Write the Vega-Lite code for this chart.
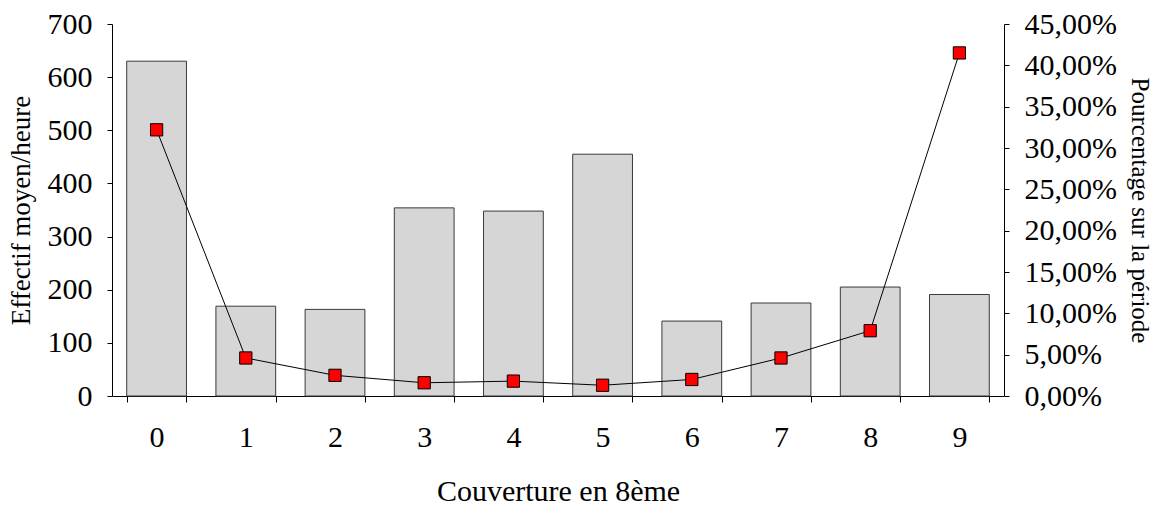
{
  "$schema": "https://vega.github.io/schema/vega-lite/v6.json",
  "width": 892,
  "height": 372,
  "autosize": {"type": "none"},
  "padding": {"left": 112, "top": 24, "right": 154, "bottom": 110},
  "background": "white",
  "data": {
    "values": [
      {"c": "0", "effectif": 630, "pct": 0.322},
      {"c": "1", "effectif": 169, "pct": 0.046},
      {"c": "2", "effectif": 163, "pct": 0.025},
      {"c": "3", "effectif": 354, "pct": 0.016},
      {"c": "4", "effectif": 348, "pct": 0.018},
      {"c": "5", "effectif": 455, "pct": 0.013},
      {"c": "6", "effectif": 141, "pct": 0.020},
      {"c": "7", "effectif": 175, "pct": 0.046},
      {"c": "8", "effectif": 205, "pct": 0.079},
      {"c": "9", "effectif": 191, "pct": 0.415}
    ]
  },
  "encoding": {
    "x": {
      "field": "c",
      "type": "ordinal",
      "sort": null,
      "scale": {"paddingInner": 0.33, "paddingOuter": 0.165},
      "axis": {
        "title": "Couverture en 8ème",
        "titleFontSize": 30,
        "labelAngle": 0,
        "tickBand": "extent",
        "tickSize": 6,
        "labelPadding": 20,
        "titlePadding": 24
      }
    }
  },
  "layer": [
    {
      "mark": {"type": "bar", "fill": "#d6d6d6", "stroke": "#3a3a3a", "strokeWidth": 1},
      "encoding": {
        "y": {
          "field": "effectif",
          "type": "quantitative",
          "scale": {"domain": [0, 700], "nice": false},
          "axis": {
            "title": "Effectif moyen/heure",
            "titleFontSize": 27,
            "orient": "left",
            "values": [0, 100, 200, 300, 400, 500, 600, 700],
            "tickSize": 5,
            "labelPadding": 15,
            "titlePadding": 12
          }
        }
      }
    },
    {
      "layer": [
        {
          "mark": {"type": "line", "color": "black", "strokeWidth": 1},
          "encoding": {}
        },
        {
          "mark": {"type": "square", "size": 150, "fill": "#ff0000", "stroke": "black", "strokeWidth": 1, "opacity": 1, "filled": true}
        }
      ],
      "encoding": {
        "y": {
          "field": "pct",
          "type": "quantitative",
          "scale": {"domain": [0, 0.45], "nice": false},
          "axis": {
            "title": "Pourcentage sur la période",
            "titleFontSize": 25,
            "orient": "right",
            "values": [0, 0.05, 0.1, 0.15, 0.2, 0.25, 0.3, 0.35, 0.4, 0.45],
            "labelExpr": "replace(format(datum.value, '.2%'), '.', ',')",
            "tickSize": 5,
            "labelPadding": 15,
            "titlePadding": 10,
            "titleAngle": 90
          }
        }
      }
    }
  ],
  "resolve": {"scale": {"y": "independent"}},
  "config": {
    "font": "Liberation Serif",
    "view": {"stroke": null},
    "axis": {
      "grid": false,
      "domainColor": "black",
      "tickColor": "black",
      "labelColor": "black",
      "titleColor": "black",
      "labelFont": "Liberation Serif",
      "titleFont": "Liberation Serif",
      "labelFontSize": 30,
      "titleFontWeight": "normal",
      "domainWidth": 1,
      "tickWidth": 1
    }
  }
}
